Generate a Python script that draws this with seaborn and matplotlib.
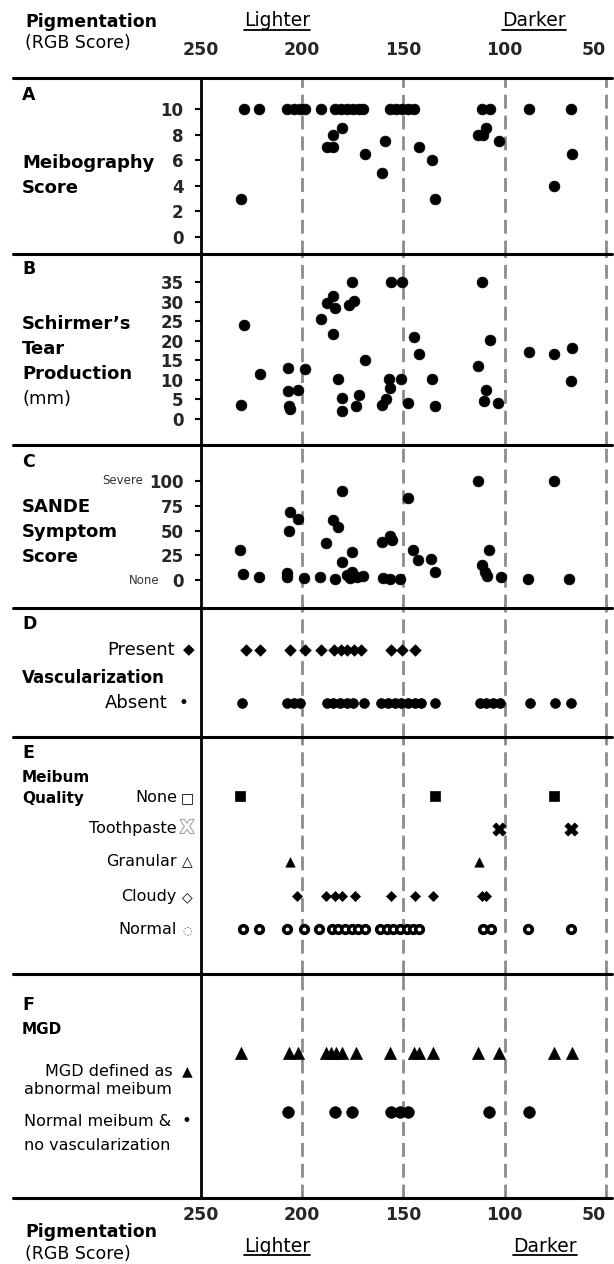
import matplotlib.pyplot as plt
import matplotlib.patheffects as pe
from matplotlib.lines import Line2D
import seaborn as sns

# ---- data (RGB pigmentation score on x) ----
# A: meibography score
meibo_rgb = [228.9, 221.5, 207.4, 204.1, 201.2, 198.6, 190.9, 183.7, 180.8, 177.9, 175.0,
             172.1, 170.2, 156.6, 153.7, 150.8, 147.9, 145.0, 111.4, 107.2, 88.2, 67.4,
             180.2, 184.7, 187.6, 184.7, 169.2, 158.9, 160.5, 142.4, 135.7, 134.3, 230.2,
             113.0, 110.7, 109.1, 102.9, 75.6, 66.9]
meibo_score = [10, 10, 10, 10, 10, 10, 10, 10, 10, 10, 10,
               10, 10, 10, 10, 10, 10, 10, 10, 10, 10, 10,
               8.5, 8, 7, 7, 6.5, 7.5, 5, 7, 6, 3, 3,
               8, 8, 8.5, 7.5, 4, 6.5]

# B: Schirmer's tear production (mm)
schirmer_rgb = [175.6, 156.0, 150.8, 111.0, 184.7, 187.6, 183.7, 176.9, 174.6, 190.9,
                228.9, 184.7, 144.9, 107.2, 142.4, 88.2, 75.6, 66.9, 169.2, 113.0,
                207.0, 198.8, 221.1, 182.4, 157.0, 151.4, 135.7, 67.4, 207.0, 202.1,
                109.1, 156.6, 172.0, 180.2, 158.5, 110.1, 147.9, 103.3, 230.2, 206.6,
                206.0, 180.2, 173.6, 160.5, 134.3]
schirmer_mm = [35, 35, 35, 35, 31.3, 29.6, 28.4, 29.0, 30.1, 25.6,
               24.1, 21.6, 21.0, 20.1, 16.6, 17.1, 16.6, 18.1, 15.2, 13.5,
               13.0, 12.7, 11.6, 10.1, 10.1, 10.1, 10.1, 9.6, 7.1, 7.5,
               7.3, 7.8, 6.2, 5.4, 5.1, 4.7, 4.1, 4.1, 3.6, 3.2,
               2.5, 2.1, 3.4, 3.6, 3.2]

# C: SANDE symptom score
sande_rgb = [113.4, 75.6, 180.2, 147.9, 206.0, 202.1, 206.4, 184.7, 182.4, 188.4,
             160.8, 155.9, 156.6, 175.3, 180.5, 230.8, 145.2, 142.7, 136.2, 134.5,
             111.3, 107.6, 109.7, 229.4, 221.2, 207.4, 207.4, 198.9, 191.2, 183.8,
             178.1, 175.6, 173.1, 169.8, 176.4, 160.3, 156.6, 151.7, 108.5, 101.9,
             88.4, 68.2]
sande_score = [100, 100, 89.7, 83.3, 69, 61.3, 49.7, 60.7, 53.3, 37,
               38.1, 40, 44, 28.6, 18.5, 30.3, 30.6, 20.4, 21.5, 7.7,
               15, 30.3, 8.1, 5.7, 3.4, 6.7, 3.4, 1.7, 3.4, 0.5,
               5, 8, 3.4, 4, 1.7, 1.7, 0.5, 0.5, 4, 3.4,
               0.5, 0.5]

# D: vascularization
vasc_present_rgb = [227.9, 220.9, 206.2, 198.6, 190.6, 184.3, 181.0, 177.7, 174.4, 171.1,
                    156.3, 150.6, 144.3]
vasc_absent_rgb = [229.9, 207.4, 204.1, 201.1, 187.9, 184.6, 181.3, 178.1, 174.8, 169.7,
                   160.9, 157.6, 154.3, 151.1, 147.8, 144.5, 141.2, 134.6, 112.3, 109.0,
                   105.7, 102.4, 87.5, 75.2, 67.3]

# E: meibum quality
quality_levels = ["Normal", "Cloudy", "Granular", "Toothpaste", "None"]
quality_none_rgb = [230.8, 134.3, 75.6]
quality_toothpaste_rgb = [102.9, 67.4]
quality_granular_rgb = [206.1, 112.6]
quality_cloudy_rgb = [202.5, 188.3, 183.8, 180.5, 174.0, 156.4, 144.4, 135.4, 111.4, 109.3]
quality_normal_rgb = [229.4, 221.2, 207.7, 198.9, 191.5, 185.5, 182.2, 178.9, 175.6, 172.3,
                      169.1, 161.6, 158.3, 155.1, 151.8, 148.5, 145.2, 142.2, 110.6, 107.0,
                      88.4, 67.3]

# F: MGD
mgd_rgb = [230.2, 206.4, 202.1, 188.2, 185.7, 183.1, 180.4, 173.4, 156.6, 145.0,
           142.4, 135.3, 113.0, 102.9, 75.6, 66.9]
no_mgd_rgb = [207.0, 183.7, 175.6, 156.2, 151.7, 147.9, 107.6, 88.2]

rgb_ticks = [250, 200, 150, 100, 50]

# ---- layout ----
W, H = 614, 1264
AXIS_PX, RIGHT_PX = 201, 612
ROWS = [78, 254, 445, 608, 737, 974, 1198]

sns.set_style("white")
plt.rcParams["font.family"] = ["DejaVu Sans"]

fig = plt.figure(figsize=(W / 100, H / 100), dpi=100)


def fx(px):
    return px / W


def fy(py):
    return 1 - py / H


def label(px, py, s, size=12, weight="normal", ha="left", color="black", **kw):
    return fig.text(fx(px), fy(py), s, ha=ha, va="center", fontsize=size,
                    fontweight=weight, color=color, **kw)


def panel(top, bottom, ylim):
    ax = fig.add_axes([fx(AXIS_PX), fy(bottom), fx(RIGHT_PX) - fx(AXIS_PX),
                       (bottom - top) / H])
    ax.set_xlim(250, 47)
    ax.set_ylim(*ylim)
    ax.patch.set_alpha(0)
    for s in ["top", "right", "bottom"]:
        ax.spines[s].set_visible(False)
    ax.spines["left"].set_linewidth(2)
    ax.spines["left"].set_color("black")
    ax.set_xticks([])
    ax.set_yticks([])
    for v in rgb_ticks[1:]:
        ax.axvline(v, color="#8c8c8c", lw=2, ls=(0, (5, 2.5)), zorder=0)
    return ax


def num_ticks(ax, ticks):
    ax.set_yticks(ticks)
    ax.set_yticklabels([str(t) for t in ticks])
    ax.tick_params(axis="y", left=True, length=4.5, width=1.5, pad=8,
                   labelsize=12, color="black")
    for t in ax.get_yticklabels():
        t.set_fontweight("bold")


dot = dict(color="black", edgecolor="black", linewidth=0.5, legend=False)

# A
axA = panel(ROWS[0], ROWS[1], (-1.33, 12.42))
sns.scatterplot(x=meibo_rgb, y=meibo_score, ax=axA, s=60, marker="o", **dot)
num_ticks(axA, [0, 2, 4, 6, 8, 10])

# B
axB = panel(ROWS[1], ROWS[2], (-6.64, 42.15))
sns.scatterplot(x=schirmer_rgb, y=schirmer_mm, ax=axB, s=60, marker="o", **dot)
num_ticks(axB, [0, 5, 10, 15, 20, 25, 30, 35])

# C
axC = panel(ROWS[2], ROWS[3], (-28.3, 136.4))
sns.scatterplot(x=sande_rgb, y=sande_score, ax=axC, s=60, marker="o", **dot)
num_ticks(axC, [0, 25, 50, 75, 100])

# D
axD = panel(ROWS[3], ROWS[4], (-0.64, 1.79))
sns.scatterplot(x=vasc_present_rgb, y=[1] * len(vasc_present_rgb), ax=axD,
                s=34, marker="D", **dot)
sns.scatterplot(x=vasc_absent_rgb, y=[0] * len(vasc_absent_rgb), ax=axD,
                s=50, marker="o", **dot)

# E
axE = panel(ROWS[4], ROWS[5], (-1.35, 5.77))
ylev = {q: i for i, q in enumerate(quality_levels)}
sns.scatterplot(x=quality_none_rgb, y=[ylev["None"]] * len(quality_none_rgb), ax=axE,
                s=60, marker="s", **dot)
sns.scatterplot(x=quality_toothpaste_rgb, y=[ylev["Toothpaste"]] * len(quality_toothpaste_rgb),
                ax=axE, s=90, marker="X", **dot)
sns.scatterplot(x=quality_granular_rgb, y=[ylev["Granular"]] * len(quality_granular_rgb),
                ax=axE, s=45, marker="^", **dot)
sns.scatterplot(x=quality_cloudy_rgb, y=[ylev["Cloudy"]] * len(quality_cloudy_rgb), ax=axE,
                s=26, marker="D", **dot)
sns.scatterplot(x=quality_normal_rgb, y=[ylev["Normal"]] * len(quality_normal_rgb), ax=axE,
                s=30, marker="o", color="white", edgecolor="black", linewidth=2.6,
                legend=False)

# F
axF = panel(ROWS[5], ROWS[6], (-1.46, 2.34))
sns.scatterplot(x=mgd_rgb, y=[1] * len(mgd_rgb), ax=axF, s=75, marker="^", **dot)
sns.scatterplot(x=no_mgd_rgb, y=[0] * len(no_mgd_rgb), ax=axF, s=70, marker="o", **dot)

# x tick labels, top and bottom
for ax, top in [(axA, True), (axF, False)]:
    ax.set_xticks(rgb_ticks)
    ax.set_xticklabels([str(t) for t in rgb_ticks])
    if top:
        ax.tick_params(axis="x", top=True, bottom=False, labeltop=True, labelbottom=False,
                       length=0, pad=14, labelsize=12.5)
    else:
        ax.tick_params(axis="x", bottom=True, labelbottom=True, length=0, pad=6,
                       labelsize=12.5)
    labs = ax.get_xticklabels()
    for t in labs:
        t.set_fontweight("bold")
    labs[-1].set_horizontalalignment("right")

# separators
for py in ROWS:
    fig.add_artist(Line2D([fx(13), fx(612)], [fy(py), fy(py)], color="black", lw=2.2))

# header / footer
label(25, 22, "Pigmentation", 12.5, "bold")
label(25, 43, "(RGB Score)", 12.5)
label(25, 1232, "Pigmentation", 12.5, "bold")
label(25, 1254, "(RGB Score)", 12.5)
underlined = [label(277, 21, "Lighter", 13.5, ha="center"),
              label(534, 21, "Darker", 13.5, ha="center"),
              label(277, 1246, "Lighter", 13.5, ha="center"),
              label(545, 1246, "Darker", 13.5, ha="center")]

# panel A-C titles
label(22, 95, "A", 12.5, "bold")
label(22, 163, "Meibography", 13, "bold")
label(22, 188, "Score", 13, "bold")
label(22, 269, "B", 12.5, "bold")
label(22, 324, "Schirmer\u2019s", 13, "bold")
label(22, 349, "Tear", 13, "bold")
label(22, 374, "Production", 13, "bold")
label(22, 399, "(mm)", 13)
label(22, 462, "C", 12.5, "bold")
label(22, 507, "SANDE", 13, "bold")
label(22, 532, "Symptom", 13, "bold")
label(22, 557, "Score", 13, "bold")
label(143, 481, "Severe", 8.5, color="#333333", ha="right")
label(160, 581, "None", 8.5, color="#333333", ha="right")

# D
label(22, 624, "D", 12.5, "bold")
label(22, 678, "Vascularization", 12, "bold")
label(175, 650, "Present", 13, ha="right")
label(189, 650, "\u25c6", 11, ha="center")
label(168, 703, "Absent", 13, ha="right")
label(183, 703, "\u2022", 12, ha="center")

# E
label(22, 753, "E", 12.5, "bold")
label(22, 777, "Meibum", 11, "bold")
label(22, 799, "Quality", 11, "bold")
e_rows = [("None", 798, "\u25a1"), ("Toothpaste", 828, "X"), ("Granular", 862, "\u25b3"),
          ("Cloudy", 897, "\u25c7"), ("Normal", 930, "\u25cc")]
for name, py, glyph in e_rows:
    label(177, py, name, 11.5, ha="right")
    if glyph == "X":
        label(187, py, "X", 13, "bold", ha="center", color="white",
              path_effects=[pe.withStroke(linewidth=1.4, foreground="#9a9a9a")])
    elif glyph == "\u25cc":
        label(187, py, glyph, 8, ha="center", color="#555555")
    else:
        label(187, py, glyph, 10, "bold", ha="center")

# F
label(22, 1005, "F", 12.5, "bold")
label(22, 1029, "MGD", 11, "bold")
label(173, 1071, "MGD defined as", 11.5, ha="right")
label(187, 1071, "\u25b2", 10, ha="center")
label(24, 1089, "abnormal meibum", 11.5)
label(24, 1121, "Normal meibum &", 11.5)
label(186, 1121, "\u2022", 12, ha="center")
label(24, 1145, "no vascularization", 11.5)

# underline Lighter / Darker
fig.canvas.draw()
for t in underlined:
    bb = t.get_window_extent()
    yline = (bb.y0 + 1) / H
    fig.add_artist(Line2D([bb.x0 / W, bb.x1 / W], [yline, yline], color="black", lw=1.3))

fig.savefig("out.png", dpi=100)
